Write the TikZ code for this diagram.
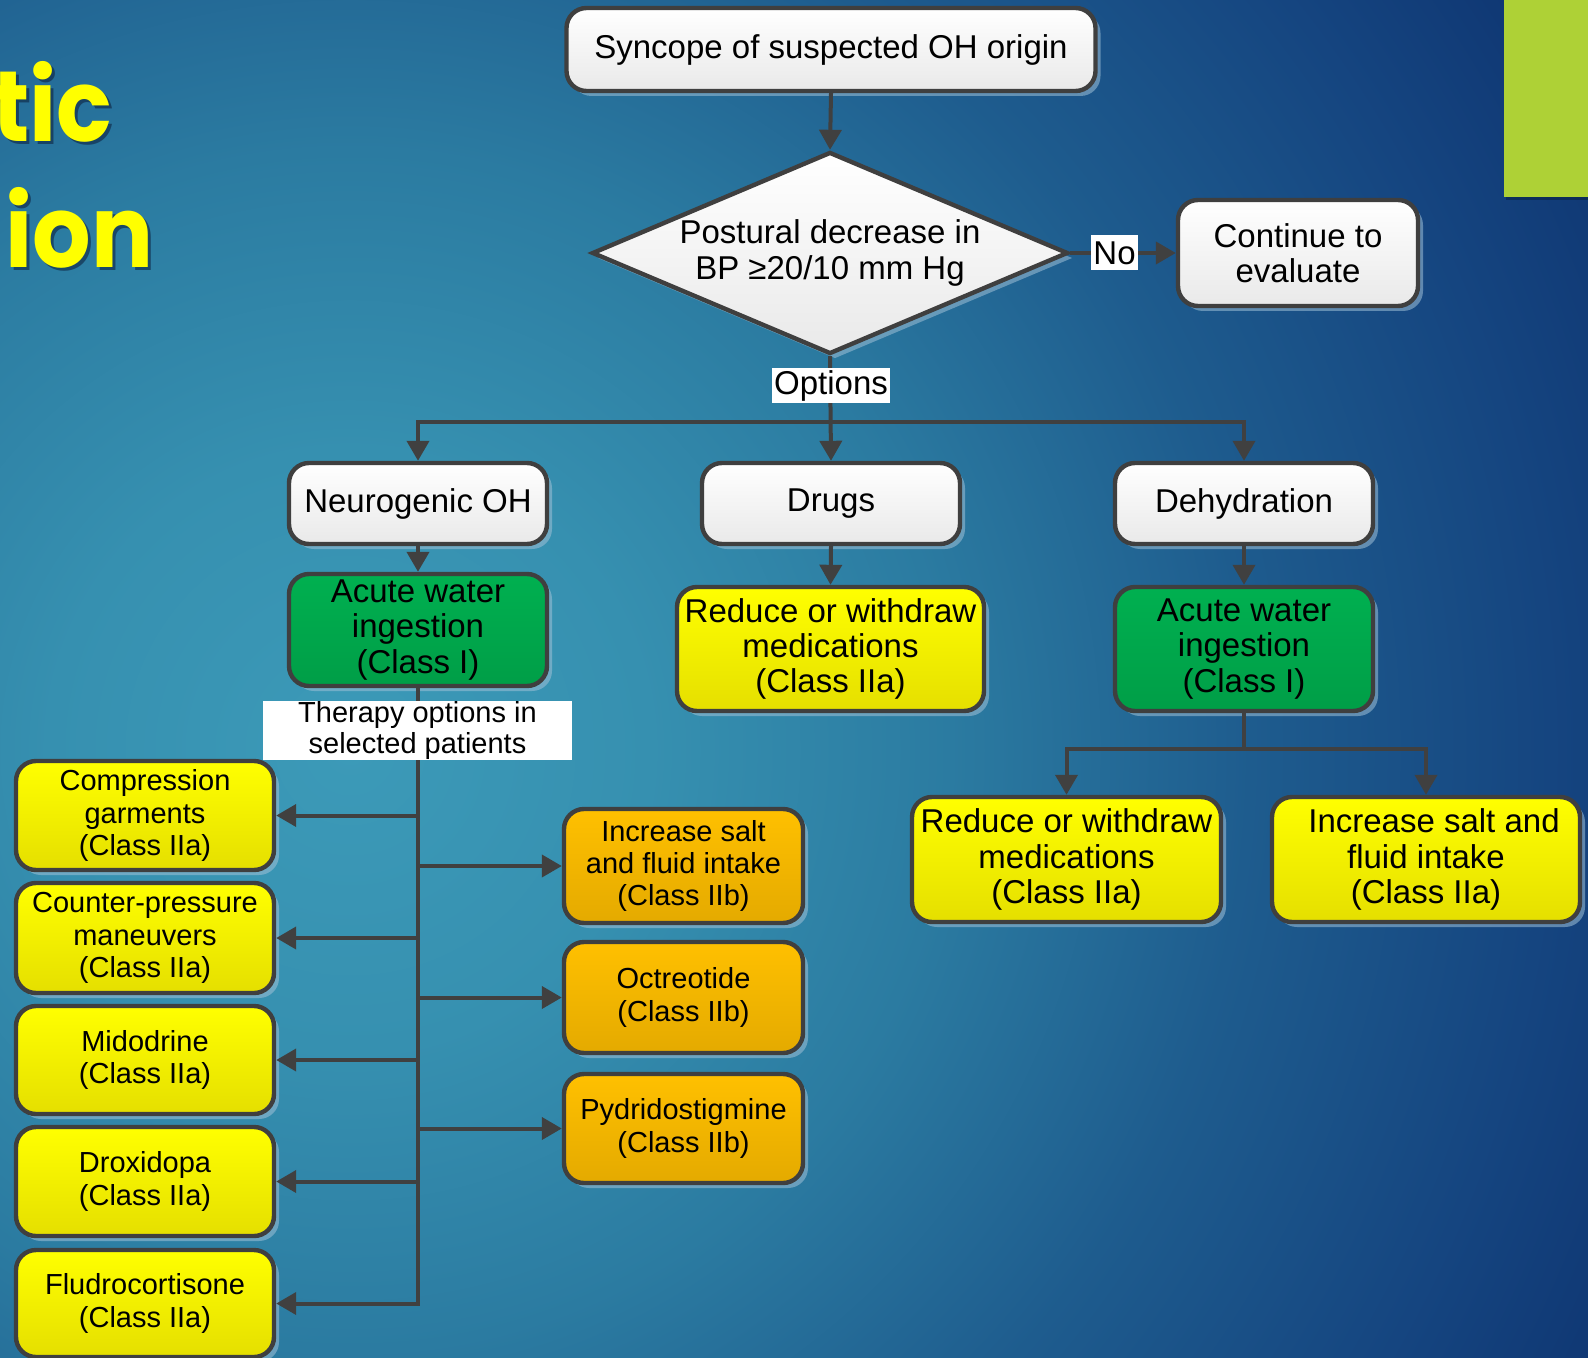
\documentclass[tikz,border=0pt]{standalone}
\usepackage{graphicx}
\usepackage{fontspec}
\setmainfont{Liberation Sans}
\newfontfamily\titlefont{Poppins}
\usetikzlibrary{shapes.geometric,arrows.meta,shadows}

\definecolor{glowA}{HTML}{3C9AB8}
\definecolor{glowB}{HTML}{3690B0}
\definecolor{glowC}{HTML}{2B7BA1}
\definecolor{glowD}{HTML}{1E5C8E}
\definecolor{glowE}{HTML}{154580}
\definecolor{glowF}{HTML}{0C2F6C}
\definecolor{edgegray}{HTML}{3F3F3F}
\definecolor{linegray}{HTML}{404040}
\definecolor{boxgray}{HTML}{E9E9E9}
\definecolor{yellowtop}{HTML}{FFFF00}
\definecolor{yellowbot}{HTML}{E5DF00}
\definecolor{greentop}{HTML}{00B050}
\definecolor{greenbot}{HTML}{009E47}
\definecolor{orangetop}{HTML}{FFC000}
\definecolor{orangebot}{HTML}{E4AA00}
\definecolor{shadowblue}{HTML}{9FC0D6}
\definecolor{titleyellow}{HTML}{FFFF00}
\definecolor{titleshadow}{HTML}{0E2340}
\definecolor{accentgreen}{HTML}{AED136}

% the inner 25bp radius is stretched over the shaded path
\pgfdeclareradialshading{bgglow}{\pgfpoint{0bp}{0bp}}{%
  color(0bp)=(glowA); color(5bp)=(glowB); color(10bp)=(glowC);
  color(15bp)=(glowD); color(20bp)=(glowE); color(25bp)=(glowF);
  color(50bp)=(glowF)}

\tikzset{
  box/.style={draw=edgegray, line width=2.2pt, rounded corners=10pt,
    align=center, inner sep=2pt,
    drop shadow={fill=shadowblue, opacity=0.55, shadow xshift=2.5pt, shadow yshift=-2.5pt}},
  bigtext/.style={font=\fontsize{16.5}{17.7}\selectfont},
  smalltext/.style={font=\fontsize{14.5}{16.2}\selectfont},
  whitebox/.style={box, bigtext, top color=white, bottom color=boxgray},
  greenbox/.style={box, bigtext, top color=greentop, bottom color=greenbot},
  yellowbox/.style={box, bigtext, top color=yellowtop, bottom color=yellowbot},
  leftbox/.style={box, smalltext, top color=yellowtop, bottom color=yellowbot,
    minimum width=129pt},
  orangebox/.style={box, smalltext, top color=orangetop, bottom color=orangebot,
    minimum width=119.5pt},
  lbl/.style={fill=white, inner xsep=1pt, inner ysep=0pt, minimum height=17.5pt, bigtext},
  conn/.style={draw=linegray, line width=2pt},
  arr/.style={conn, -{Triangle[length=10pt,width=11pt]}},
  titletext/.style={anchor=base east, inner sep=0pt,
    font=\titlefont\bfseries\fontsize{50}{50}\selectfont},
}

\begin{document}
\begin{tikzpicture}[x=0.5pt,y=-0.5pt]
\useasboundingbox (0,0) rectangle (1588,1358);

% background glow and slide decorations
\begin{scope}
  \clip (0,0) rectangle (1588,1358);
  \shade[shading=bgglow] (-1150,-750) rectangle (1850,2250);
  \fill[black, opacity=0.25] (1506,0) rectangle (1591,200);
  \fill[accentgreen] (1504,0) rectangle (1588,197);
  \node[titletext, text=titleshadow, opacity=0.6] (tshA) at (116,145) {\scalebox{0.92}[1]{tic}};
  \node[titletext, text=titleyellow] (titleA) at (113,142) {\scalebox{0.92}[1]{tic}};
  \node[titletext, text=titleshadow, opacity=0.6] (tshB) at (157,271) {\scalebox{0.92}[1]{ion}};
  \node[titletext, text=titleyellow] (titleB) at (154,268) {\scalebox{0.92}[1]{ion}};
\end{scope}

% decision flow
\node[whitebox, minimum width=264.5pt, minimum height=41.5pt] (start) at (831,49.5)
  {Syncope of suspected OH origin};
\node[whitebox, diamond, aspect=2.35, rounded corners=0pt, inner sep=0pt,
      minimum width=238pt, minimum height=101pt] (dia) at (830,253)
  {Postural decrease in\\BP \char"2265 20/10 mm Hg};
\node[whitebox, minimum width=120pt, minimum height=53pt] (cont) at (1298,253)
  {Continue to\\evaluate};

\node[whitebox, minimum width=129pt, minimum height=40.5pt] (neuro) at (418,503.5) {Neurogenic OH};
\node[whitebox, minimum width=129pt, minimum height=40.5pt] (drugs) at (831,503.5) {Drugs};
\node[whitebox, minimum width=129pt, minimum height=40.5pt] (dehyd) at (1244,503.5) {Dehydration};

\node[greenbox, minimum width=129pt, minimum height=56pt] (acuteL) at (418,630)
  {Acute water\\ingestion\\(Class I)};
\node[yellowbox, minimum width=153.5pt, minimum height=62pt] (reduceD) at (830.5,649)
  {Reduce or withdraw\\medications\\(Class IIa)};
\node[greenbox, minimum width=129pt, minimum height=62pt] (acuteR) at (1244,649)
  {Acute water\\ingestion\\(Class I)};
\node[yellowbox, minimum width=154.5pt, minimum height=62.5pt] (reduceR) at (1066.5,859.5)
  {Reduce or withdraw\\medications\\(Class IIa)};
\node[yellowbox, minimum width=154pt, minimum height=62.5pt] (incR) at (1426,859.5)
  {\hspace*{8pt}Increase salt and\\fluid intake\\(Class IIa)};

% therapy options for neurogenic OH
\node[leftbox, minimum height=54.5pt] (comp) at (145,815.5) {Compression\\garments\\(Class IIa)};
\node[leftbox, minimum height=55pt] (counter) at (145,938) {Counter-pressure\\maneuvers\\(Class IIa)};
\node[leftbox, minimum height=54pt] (mido) at (145,1060) {Midodrine\\(Class IIa)};
\node[leftbox, minimum height=54.5pt] (droxi) at (145,1181.5) {Droxidopa\\(Class IIa)};
\node[leftbox, minimum height=53.5pt] (fludro) at (145,1303.5) {Fludrocortisone\\(Class IIa)};

\node[orangebox, minimum height=57pt] (salt) at (683.5,866) {Increase salt\\and fluid intake\\(Class IIb)};
\node[orangebox, minimum height=55.5pt] (octreo) at (683.5,997.5) {Octreotide\\(Class IIb)};
\node[orangebox, minimum height=54.5pt] (pyrido) at (683.5,1128.5) {Pydridostigmine\\(Class IIb)};

% connectors
\draw[arr] (start.south) -- (dia.north);
\draw[arr] (dia.east) -- (cont.west) node[lbl, pos=0.42] (nolbl) {No};

\draw[arr] (dia.south) ++(0,66) -| (neuro.north);
\draw[arr] (dia.south) ++(0,66) -| (dehyd.north);
\draw[arr] (dia.south) -- (drugs.north);
\node[lbl] (optlbl) at (831,385.5) {Options};

\draw[arr] (neuro.south) -- (acuteL.north);
\draw[arr] (drugs.south) -- (reduceD.north);
\draw[arr] (dehyd.south) -- (acuteR.north);

\draw[arr] (acuteR.south) -- ++(0,36) -| (reduceR.north);
\draw[arr] (acuteR.south) -- ++(0,36) -| (incR.north);

\draw[arr] (acuteL.south) |- (comp.east);
\draw[arr] (acuteL.south) |- (counter.east);
\draw[arr] (acuteL.south) |- (mido.east);
\draw[arr] (acuteL.south) |- (droxi.east);
\draw[arr] (acuteL.south) |- (fludro.east);
\draw[arr] (acuteL.south) |- (salt.west);
\draw[arr] (acuteL.south) |- (octreo.west);
\draw[arr] (acuteL.south) |- (pyrido.west);

\node[fill=white, inner sep=0pt, minimum width=154.5pt, minimum height=27.5pt,
      align=center, font=\fontsize{14.5}{15.7}\selectfont] (therapy) at (417.5,730.5)
  {Therapy options in\\selected patients};
\end{tikzpicture}
\end{document}
